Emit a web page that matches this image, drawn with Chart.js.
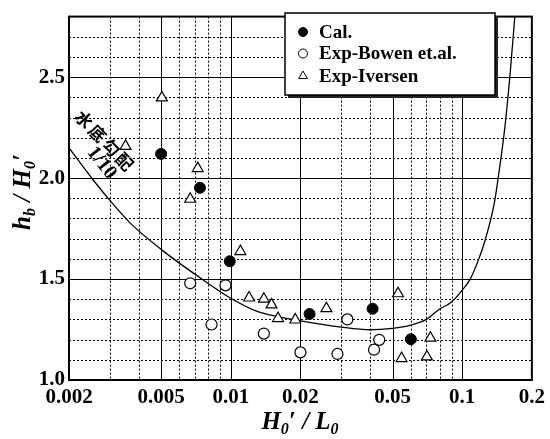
<!DOCTYPE html>
<html>
<head>
<meta charset="utf-8">
<script src="https://cdn.jsdelivr.net/npm/chart.js@4/dist/chart.umd.min.js"></script>
<style>
  html, body { margin: 0; padding: 0; background: #fff; }
</style>
</head>
<body>
<canvas id="chartRotura" width="550" height="439"></canvas>
<script>
// Valores calculados (Cal.)
const calX = [0.0050, 0.00736, 0.0099, 0.0219, 0.0410, 0.0600];
const calY = [2.120, 1.952, 1.588, 1.327, 1.353, 1.202];

// Ensayos de Bowen et al.
const bowenX = [0.00668, 0.00826, 0.00949, 0.0139, 0.0200, 0.0289, 0.0319, 0.0416, 0.0438];
const bowenY = [1.479, 1.275, 1.469, 1.230, 1.137, 1.129, 1.300, 1.150, 1.199];

// Ensayos de Iversen
const iversenX = [0.00351, 0.00504, 0.00668, 0.00720, 0.0110, 0.0120, 0.0139, 0.0150, 0.0160, 0.0190, 0.0259, 0.0528, 0.0547, 0.0704, 0.0729];
const iversenY = [2.158, 2.398, 1.896, 2.048, 1.637, 1.407, 1.401, 1.373, 1.305, 1.298, 1.354, 1.428, 1.107, 1.115, 1.208];

// Curva teórica para pendiente 1/10
const curvaX = [0.0020, 0.00256, 0.00307, 0.00368, 0.0050, 0.0075, 0.0100, 0.0130, 0.0160, 0.0200, 0.0300, 0.0400, 0.0500, 0.0600, 0.0700, 0.0791, 0.0902, 0.1005, 0.1080, 0.1180, 0.1254, 0.1375, 0.1430, 0.1527, 0.1606, 0.1688];
const curvaY = [2.150, 1.987, 1.877, 1.777, 1.647, 1.500, 1.405, 1.340, 1.314, 1.293, 1.262, 1.249, 1.256, 1.272, 1.300, 1.348, 1.388, 1.448, 1.497, 1.600, 1.690, 1.874, 2.000, 2.246, 2.500, 2.800];

// Ejes
const xTicks = [0.002, 0.005, 0.01, 0.02, 0.05, 0.1, 0.2];
const xTickLabels = ['0.002', '0.005', '0.01', '0.02', '0.05', '0.1', '0.2'];
const xMinor = [0.003, 0.004, 0.006, 0.007, 0.008, 0.009, 0.03, 0.04, 0.06, 0.07, 0.08, 0.09];
const xMajor = [0.005, 0.01, 0.02, 0.05, 0.1];
const yTicks = [1.0, 1.5, 2.0, 2.5];
const yMinor = [1.1, 1.2, 1.3, 1.4, 1.6, 1.7, 1.8, 1.9, 2.1, 2.2, 2.3, 2.4, 2.6, 2.7];
const yMajor = [1.5, 2.0, 2.5];

const SERIF = '"Liberation Serif", "Times New Roman", serif';

function puntos(xs, ys) {
    return xs.map((x, i) => ({ x: x, y: ys[i] }));
}

// Texto con subíndices: [{t, sub}]
function textoCompuesto(ctx, partes, cx, cy, rot) {
    const fNormal = 'italic bold 25px ' + SERIF;
    const fSub = 'italic bold 16px ' + SERIF;
    ctx.save();
    let total = 0;
    partes.forEach(p => {
        ctx.font = p.sub ? fSub : fNormal;
        p.w = ctx.measureText(p.t).width;
        total += p.w;
    });
    ctx.translate(cx, cy);
    ctx.rotate(rot);
    ctx.fillStyle = '#000';
    ctx.textBaseline = 'alphabetic';
    ctx.textAlign = 'left';
    let x = -total / 2;
    partes.forEach(p => {
        ctx.font = p.sub ? fSub : fNormal;
        ctx.fillText(p.t, x, p.sub ? 5 : 0);
        x += p.w;
    });
    ctx.restore();
}

// Rejilla: líneas continuas en 1-2-5 y punteadas en el resto
const rejillaPlugin = {
    id: 'rejilla',
    beforeDatasetsDraw(chart) {
        const ctx = chart.ctx;
        const a = chart.chartArea;
        const sx = chart.scales.x, sy = chart.scales.y;
        ctx.save();
        ctx.strokeStyle = '#000';
        ctx.lineWidth = 1;
        ctx.setLineDash([2, 2]);
        xMinor.forEach(v => {
            const px = Math.round(sx.getPixelForValue(v)) + 0.5;
            ctx.beginPath(); ctx.moveTo(px, a.top); ctx.lineTo(px, a.bottom); ctx.stroke();
        });
        yMinor.forEach(v => {
            const py = Math.round(sy.getPixelForValue(v)) + 0.5;
            ctx.beginPath(); ctx.moveTo(a.left, py); ctx.lineTo(a.right, py); ctx.stroke();
        });
        ctx.setLineDash([]);
        xMajor.forEach(v => {
            const px = Math.round(sx.getPixelForValue(v)) + 0.5;
            ctx.beginPath(); ctx.moveTo(px, a.top); ctx.lineTo(px, a.bottom); ctx.stroke();
        });
        yMajor.forEach(v => {
            const py = Math.round(sy.getPixelForValue(v)) + 0.5;
            ctx.beginPath(); ctx.moveTo(a.left, py); ctx.lineTo(a.right, py); ctx.stroke();
        });
        ctx.restore();
    }
};

// Marco, títulos, rótulo de la pendiente y leyenda
const decoracionPlugin = {
    id: 'decoracion',
    afterDraw(chart) {
        const ctx = chart.ctx;
        const a = chart.chartArea;
        ctx.save();
        ctx.strokeStyle = '#000';
        ctx.lineWidth = 2;
        ctx.strokeRect(a.left, a.top, a.right - a.left, a.bottom - a.top);
        ctx.restore();

        textoCompuesto(ctx, [{ t: 'H' }, { t: '0', sub: true }, { t: '\u2032 / L' }, { t: '0', sub: true }], 300, 429, 0);
        textoCompuesto(ctx, [{ t: 'h' }, { t: 'b', sub: true }, { t: ' / H' }, { t: '0', sub: true }, { t: '\u2032' }], 30, 192, -Math.PI / 2);

        // rótulo junto a la curva, carácter a carácter
        const rotulo = '水底勾配';
        const ang = 46 * Math.PI / 180;
        const paso = 19.5;
        ctx.save();
        ctx.fillStyle = '#000';
        ctx.textAlign = 'center';
        ctx.textBaseline = 'middle';
        ctx.font = 'bold 17px "Noto Sans CJK JP"';
        for (let k = 0; k < rotulo.length; k++) {
            const d = (k - 1.5) * paso;
            ctx.save();
            ctx.translate(104.3 + d * Math.cos(ang), 140.5 + d * Math.sin(ang));
            ctx.rotate(ang);
            ctx.fillText(rotulo[k], 0, 0);
            ctx.restore();
        }
        ctx.restore();
        ctx.save();
        ctx.fillStyle = '#000';
        ctx.textAlign = 'center';
        ctx.textBaseline = 'middle';
        ctx.translate(101.5, 163);
        ctx.rotate(52 * Math.PI / 180);
        ctx.font = 'bold 20px ' + SERIF;
        ctx.fillText('1/10', 0, 0);
        ctx.restore();

        // leyenda
        const bx = 285, by = 13, bw = 210, bh = 82;
        ctx.save();
        ctx.fillStyle = '#222';
        ctx.fillRect(bx + 3, by + 3, bw, bh);
        ctx.fillStyle = '#fff';
        ctx.fillRect(bx, by, bw, bh);
        ctx.strokeStyle = '#000';
        ctx.lineWidth = 1.5;
        ctx.strokeRect(bx, by, bw, bh);
        const filas = [32, 53.5, 76];
        [0, 1, 2].forEach((i, k) => {
            const ds = chart.data.datasets[i];
            ctx.fillStyle = ds.backgroundColor;
            ctx.strokeStyle = '#000';
            ctx.lineWidth = 1;
            Chart.helpers.drawPoint(ctx, {
                pointStyle: ds.pointStyle,
                radius: ds.pointStyle === 'triangle' ? 5 : 4.5,
                borderWidth: 1,
                rotation: 0
            }, 303, filas[k]);
            ctx.fillStyle = '#000';
            ctx.font = 'bold 19px ' + SERIF;
            ctx.textAlign = 'left';
            ctx.textBaseline = 'middle';
            ctx.fillText(ds.label, 319, filas[k] + 1);
        });
        ctx.restore();
    }
};

const ctx = document.getElementById('chartRotura').getContext('2d');

new Chart(ctx, {
    type: 'scatter',
    data: {
        datasets: [{
            label: 'Cal.',
            data: puntos(calX, calY),
            pointStyle: 'circle',
            pointRadius: 5.5,
            backgroundColor: '#000',
            borderColor: '#000',
            borderWidth: 1,
            order: 1
        }, {
            label: 'Exp-Bowen et.al.',
            data: puntos(bowenX, bowenY),
            pointStyle: 'circle',
            pointRadius: 5.5,
            backgroundColor: '#fff',
            borderColor: '#000',
            borderWidth: 1.2,
            order: 2
        }, {
            label: 'Exp-Iversen',
            data: puntos(iversenX, iversenY),
            pointStyle: 'triangle',
            pointRadius: 6.3,
            backgroundColor: '#fff',
            borderColor: '#000',
            borderWidth: 1.2,
            order: 3
        }, {
            label: '水底勾配 1/10',
            data: puntos(curvaX, curvaY),
            showLine: true,
            pointRadius: 0,
            borderColor: '#000',
            borderWidth: 1.3,
            cubicInterpolationMode: 'monotone',
            fill: false,
            order: 10
        }]
    },
    options: {
        responsive: false,
        animation: false,
        devicePixelRatio: 1,
        layout: { padding: { top: 8, right: 16, left: 0, bottom: 0 } },
        plugins: {
            legend: { display: false },
            tooltip: { enabled: false }
        },
        scales: {
            x: {
                type: 'logarithmic',
                min: 0.002,
                max: 0.2,
                grid: { display: false, drawTicks: false },
                border: { display: false },
                afterBuildTicks: scale => { scale.ticks = xTicks.map(v => ({ value: v })); },
                afterFit: scale => { scale.height = 59; },
                ticks: {
                    autoSkip: false,
                    maxRotation: 0,
                    padding: 5,
                    color: '#000',
                    font: { family: SERIF, size: 21, weight: 'bold' },
                    callback: (v, i) => xTickLabels[i]
                }
            },
            y: {
                min: 1.0,
                max: 2.8,
                grid: { display: false, drawTicks: false },
                border: { display: false },
                afterBuildTicks: scale => { scale.ticks = yTicks.map(v => ({ value: v })); },
                afterFit: scale => { scale.width = 69; },
                ticks: {
                    padding: 4,
                    color: '#000',
                    font: { family: SERIF, size: 21, weight: 'bold' },
                    callback: v => v.toFixed(1)
                }
            }
        }
    },
    plugins: [rejillaPlugin, decoracionPlugin]
});
</script>
</body>
</html>
